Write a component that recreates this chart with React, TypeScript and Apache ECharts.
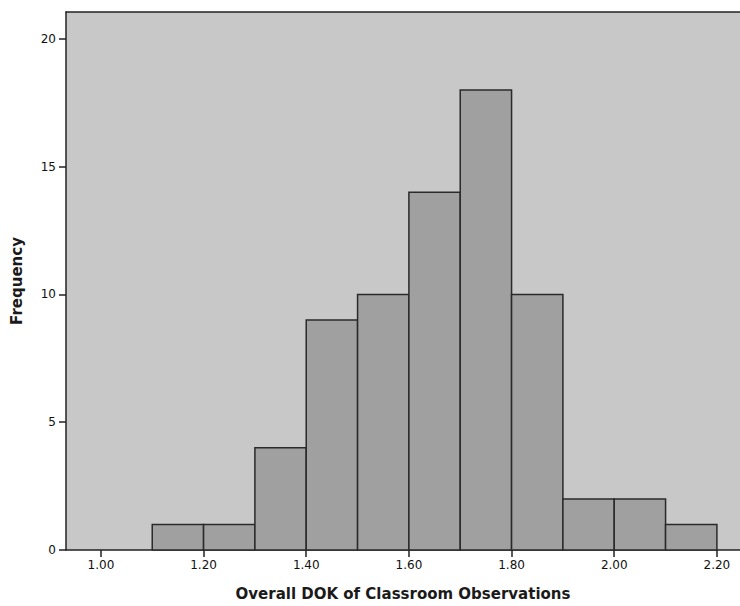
import React, { useEffect, useRef } from "react";
import * as echarts from "echarts";

const binStarts = [1.1, 1.2, 1.3, 1.4, 1.5, 1.6, 1.7, 1.8, 1.9, 2.0, 2.1];
const binWidth = 0.1;
const frequencies = [1, 1, 4, 9, 10, 14, 18, 10, 2, 2, 1];
const xTicks = [1.0, 1.2, 1.4, 1.6, 1.8, 2.0, 2.2];
const yTicks = [0, 5, 10, 15, 20];

export default function App() {
  const ref = useRef<HTMLDivElement>(null);
  useEffect(() => {
    document.body.style.margin = "0";
    const chart = echarts.init(ref.current!, null, { renderer: "svg" });
    const data = binStarts.map((s, i) => [s, s + binWidth, frequencies[i]]);
    const labelFont = { fontFamily: "DejaVu Sans", fontSize: 12, color: "#111" };
    const nameFont = { fontFamily: "DejaVu Sans", fontWeight: "bold", fontSize: 15, color: "#1a1a1a" };
    chart.setOption({
      animation: false,
      backgroundColor: "#ffffff",
      grid: {
        left: 66,
        right: 0,
        top: 12,
        bottom: 55,
        show: true,
        backgroundColor: "#c8c8c8",
        borderWidth: 0,
      },
      xAxis: [
        {
          type: "value",
          min: 0.932,
          max: 2.245,
          name: "Overall DOK of Classroom Observations",
          nameLocation: "middle",
          nameGap: 36,
          nameTextStyle: nameFont,
          axisLine: { show: true, lineStyle: { color: "#222", width: 1.5 } },
          axisTick: { show: true, length: 7, lineStyle: { color: "#222", width: 1.5 }, customValues: xTicks },
          axisLabel: {
            ...labelFont,
            margin: 9,
            customValues: xTicks,
            formatter: (v: number) => v.toFixed(2),
          },
          splitLine: { show: false },
        },
        {
          type: "value",
          position: "top",
          min: 0.932,
          max: 2.245,
          axisLine: { show: true, lineStyle: { color: "#222", width: 1.5 } },
          axisTick: { show: false },
          axisLabel: { show: false },
          splitLine: { show: false },
        },
      ],
      yAxis: {
        type: "value",
        min: 0,
        max: 21.05,
        name: "Frequency",
        nameLocation: "middle",
        nameRotate: 90,
        nameGap: 42,
        nameTextStyle: nameFont,
        axisLine: { show: true, lineStyle: { color: "#222", width: 1.5 } },
        axisTick: { show: true, length: 7, lineStyle: { color: "#222", width: 1.5 }, customValues: yTicks },
        axisLabel: { ...labelFont, margin: 10, customValues: yTicks },
        splitLine: { show: false },
      },
      series: [
        {
          type: "custom",
          xAxisIndex: 0,
          yAxisIndex: 0,
          data,
          encode: { x: [0, 1], y: 2 },
          renderItem: (params: any, api: any) => {
            const p0 = api.coord([api.value(0), api.value(2)]);
            const p1 = api.coord([api.value(1), 0]);
            return {
              type: "rect",
              shape: { x: p0[0], y: p0[1], width: p1[0] - p0[0], height: p1[1] - p0[1] },
              style: { fill: "#a0a0a0", stroke: "#2a2a2a", lineWidth: 1.5 },
            };
          },
        },
      ],
    });
    return () => chart.dispose();
  }, []);
  return <div ref={ref} style={{ width: 740, height: 606 }} />;
}
